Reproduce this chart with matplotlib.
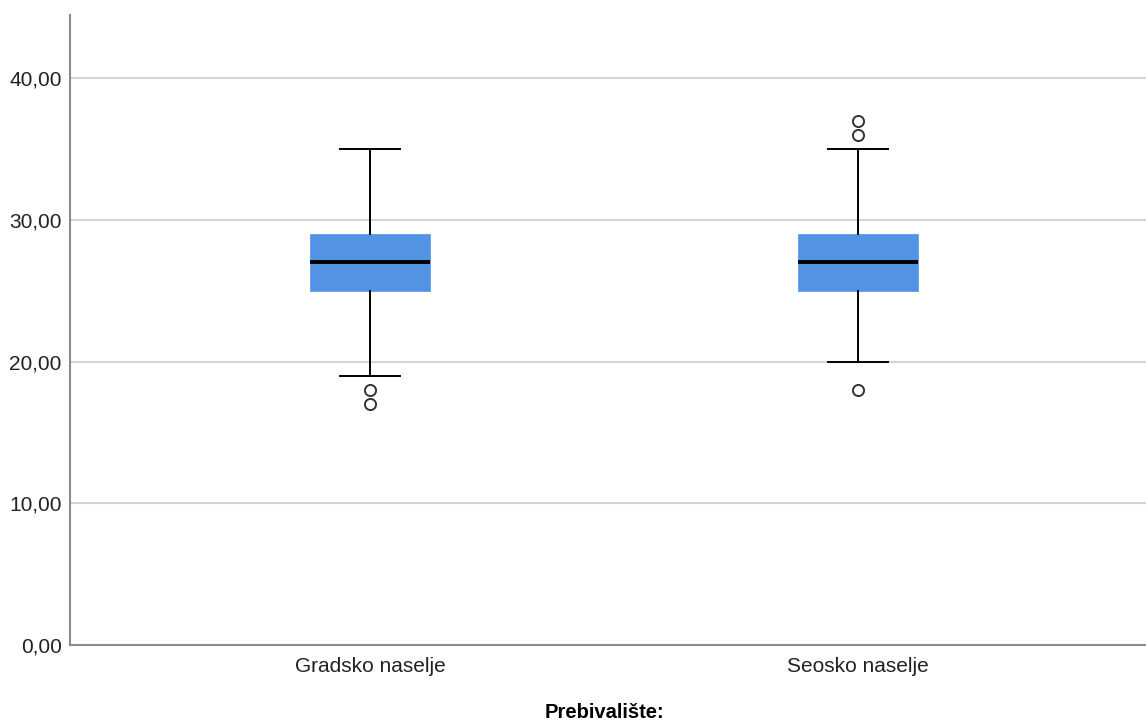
import matplotlib
matplotlib.use("Agg")
import matplotlib.pyplot as plt

# box-plot statistics
groups = ["Gradsko naselje", "Seosko naselje"]
q1 = [25, 25]
medians = [27, 27]
q3 = [29, 29]
whislo = [19, 20]
whishi = [35, 35]
fliers = [[18, 17], [37, 36, 18]]

y_ticks = [0, 10, 20, 30, 40]
y_tick_labels = ["0,00", "10,00", "20,00", "30,00", "40,00"]

BOX_COLOR = "#5393e4"
SPINE_COLOR = "#8c8c8c"
GRID_COLOR = "#d4d4d4"

plt.rcParams["font.family"] = ["Liberation Sans", "DejaVu Sans"]

stats = []
for i, name in enumerate(groups):
    stats.append(dict(label=name, q1=q1[i], med=medians[i], q3=q3[i],
                      whislo=whislo[i], whishi=whishi[i], fliers=fliers[i]))

fig = plt.figure(figsize=(11.46, 7.24), dpi=100)
ax = fig.add_axes([70 / 1146, 79 / 724, 1076 / 1146, 630 / 724])

ax.bxp(stats, positions=[1, 2], widths=0.246, capwidths=0.123,
       patch_artist=True, showfliers=True,
       boxprops=dict(facecolor=BOX_COLOR, edgecolor=BOX_COLOR, lw=0.5),
       medianprops=dict(color="black", lw=2.8),
       whiskerprops=dict(color="black", lw=1.4),
       capprops=dict(color="black", lw=1.4),
       flierprops=dict(marker="o", markersize=8, markerfacecolor="none",
                       markeredgecolor="#333333", markeredgewidth=1.4))

ax.set_xlim(0.385, 2.59)
ax.set_ylim(0, 44.45)
ax.set_yticks(y_ticks)
ax.set_yticklabels(y_tick_labels)
ax.yaxis.grid(True, color=GRID_COLOR, lw=1.5)
ax.set_axisbelow(True)
ax.tick_params(axis="both", length=0, labelsize=15, colors="#222222")
ax.tick_params(axis="x", pad=9)
ax.tick_params(axis="y", pad=6)

for side in ["top", "right"]:
    ax.spines[side].set_visible(False)
for side in ["left", "bottom"]:
    ax.spines[side].set_color(SPINE_COLOR)
    ax.spines[side].set_linewidth(1.5)

# axis title placed in figure coords so it sits near the bottom edge
fig.text(605 / 1146, 1 - 713 / 724, "Prebivalište:", fontsize=14.5,
         fontweight="bold", ha="center", va="center", color="black")

fig.savefig("out.png", dpi=100, facecolor="white")
